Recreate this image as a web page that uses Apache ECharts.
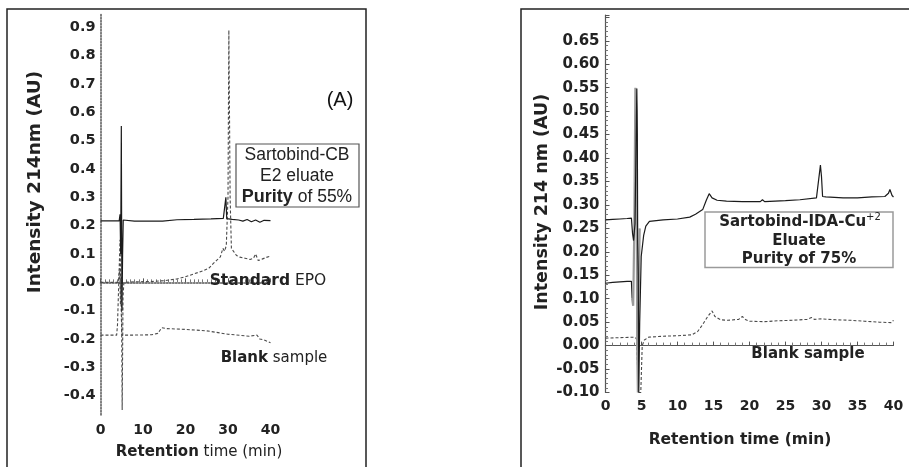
<!DOCTYPE html>
<html>
<head>
<meta charset="utf-8">
<script src="https://cdn.jsdelivr.net/npm/echarts@6/dist/echarts.min.js"></script>
<style>
  html, body { margin: 0; padding: 0; background: #ffffff; }
  #chart { width: 909px; height: 467px; }
</style>
</head>
<body>
<div id="chart"></div>
<script>
// ---------- Panel A: Sartobind-CB (retention time in min, absorbance in AU) ----------
const cbEluate = [
  [0, 0.217], [2, 0.217], [4.4, 0.217], [4.6, 0.24], [4.75, 0.10], [4.9, 0.552],
  [4.97, 0.20], [5.05, -0.10], [5.2, 0.10], [5.35, 0.22], [5.6, 0.217], [8, 0.216],
  [12, 0.216], [14.6, 0.216], [14.8, 0.221], [18, 0.221], [22, 0.222], [26, 0.224],
  [28.9, 0.226], [29.3, 0.23], [29.5, 0.30], [29.7, 0.225], [31, 0.222], [32.5, 0.22],
  [33.5, 0.216], [34.5, 0.222], [35.5, 0.214], [36.5, 0.22], [37.5, 0.212],
  [38.5, 0.219], [40, 0.218]
];
const standardEpo = [
  [0, 0.0], [2, 0.0], [4.2, 0.0], [4.5, 0.05], [4.7, -0.08], [4.9, 0.02],
  [5.1, -0.45], [5.3, -0.05], [5.5, 0.0], [8, 0.002], [12, 0.003], [15, 0.006],
  [18, 0.012], [20, 0.02], [22, 0.03], [24, 0.04], [25.5, 0.05], [26.5, 0.066],
  [27.5, 0.08], [28.2, 0.09], [28.8, 0.12], [29.2, 0.11], [29.6, 0.13],
  [30.0, 0.30], [30.2, 0.89], [30.5, 0.30], [30.8, 0.12], [31.2, 0.114],
  [32, 0.095], [32.8, 0.089], [34, 0.085], [35.2, 0.081], [36, 0.085],
  [36.5, 0.10], [37.1, 0.077], [38, 0.082], [39, 0.088], [40, 0.093]
];
const cbBlank = [
  [0, -0.186], [2, -0.186], [3.8, -0.186], [4.0, -0.15], [4.3, 0.0], [4.6, 0.15],
  [4.8, -0.05], [5.0, -0.186], [8, -0.186], [12, -0.185], [13.5, -0.18],
  [14.4, -0.16], [15.5, -0.163], [20, -0.166], [25, -0.171], [30, -0.183],
  [33, -0.187], [35, -0.19], [36.8, -0.186], [37.5, -0.20], [38.5, -0.203],
  [40, -0.213]
];

// ---------- Panel B: Sartobind-IDA-Cu+2 ----------
const idaEluate = [
  [0, 0.268], [1, 0.269], [2, 0.270], [3, 0.271], [3.6, 0.272], [3.75, 0.24],
  [3.9, 0.224], [4.1, 0.26], [4.35, 0.548], [4.42, 0.45], [4.47, 0.22],
  [4.55, 0.15], [4.62, -0.10], [4.75, 0.05], [4.96, 0.19], [5.3, 0.235],
  [5.6, 0.255], [6.1, 0.265], [8, 0.268], [10, 0.27], [11.7, 0.274],
  [12.5, 0.28], [13.5, 0.29], [14.0, 0.31], [14.4, 0.324], [14.8, 0.315],
  [15.5, 0.31], [16.8, 0.308], [19, 0.307], [21.5, 0.307], [21.8, 0.311],
  [22.1, 0.307], [25, 0.309], [27, 0.311], [29.3, 0.315], [29.85, 0.385],
  [30.0, 0.36], [30.15, 0.318], [30.6, 0.317], [33, 0.315], [35, 0.315],
  [37, 0.317], [38.8, 0.318], [39.3, 0.325], [39.5, 0.333], [39.8, 0.32],
  [40, 0.317]
];
const idaMiddle = [
  [0, 0.133], [1, 0.135], [2, 0.136], [3, 0.137], [3.6, 0.137], [3.7, 0.10],
  [3.85, 0.085], [4.0, 0.25], [4.15, 0.55], [4.3, 0.50], [4.4, 0.0],
  [4.5, -0.10], [4.6, 0.10], [4.75, 0.25]
];
const idaBlank = [
  [0, 0.016], [2, 0.017], [4, 0.018], [4.3, 0.015], [4.6, -0.10], [4.9, -0.10],
  [5.1, 0.0], [5.4, 0.012], [6, 0.018], [8, 0.020], [10, 0.021], [12, 0.023],
  [12.8, 0.03], [13.5, 0.045], [14.2, 0.062], [14.8, 0.074], [15.2, 0.062],
  [16, 0.055], [17, 0.054], [18.5, 0.056], [19, 0.062], [19.5, 0.055],
  [20, 0.052], [22, 0.051], [24, 0.053], [26, 0.054], [28, 0.056],
  [28.6, 0.06], [29, 0.056], [30, 0.057], [32, 0.055], [34, 0.054],
  [36, 0.052], [38, 0.050], [39.7, 0.049], [40, 0.054]
];

// Tick labels on the left-hand intensity axis
const leftYLabels = [-0.4, -0.3, -0.2, -0.1, 0.0, 0.1, 0.2, 0.3, 0.4, 0.5, 0.6, 0.7, 0.8, 0.9];

const FONT = 'DejaVu Sans';
const INK = '#222';

function fmt(v, d) {
  if (Math.abs(v) < 1e-9) v = 0;
  return v.toFixed(d);
}

const solid = { color: '#1b1b1b', width: 1.2, type: 'solid' };
const dashed = { color: '#4a4a4a', width: 1.1, type: [3, 2] };

function line(data, style, gi) {
  return {
    type: 'line', data: data, xAxisIndex: gi, yAxisIndex: gi,
    showSymbol: false, symbol: 'none', lineStyle: style, silent: true,
    animation: false
  };
}

const chart = echarts.init(document.getElementById('chart'), null, { renderer: 'canvas' });

const option = {
  backgroundColor: '#ffffff',
  animation: false,
  grid: [
    { left: 100.5, top: 14, width: 170, height: 401 },
    { left: 605.5, top: 15, width: 288, height: 377.5 }
  ],
  xAxis: [
    {
      gridIndex: 0, type: 'value', min: 0, max: 40, interval: 10,
      axisLine: { show: true, lineStyle: { color: '#555', type: 'dotted', width: 1.5 } },
      axisTick: { show: true, inside: true, length: 4, lineStyle: { color: '#555' } },
      minorTick: { show: true, splitNumber: 10, length: 3, lineStyle: { color: '#777' } },
      splitLine: { show: false },
      axisLabel: { fontFamily: FONT, fontWeight: 'bold', fontSize: 14, color: INK, margin: 8 }
    },
    {
      gridIndex: 1, type: 'value', min: 0, max: 40, interval: 5,
      axisLine: { show: true, lineStyle: { color: '#555', width: 1.2 } },
      axisTick: { show: true, inside: true, length: 4, lineStyle: { color: '#555' } },
      minorTick: { show: true, splitNumber: 5, length: 3, lineStyle: { color: '#777' } },
      splitLine: { show: false },
      axisLabel: { fontFamily: FONT, fontWeight: 'bold', fontSize: 14, color: INK, margin: 7 }
    }
  ],
  yAxis: [
    {
      gridIndex: 0, type: 'value', min: -0.468, max: 0.947,
      axisLine: { show: true, lineStyle: { color: '#555', type: 'dotted', width: 1.5 } },
      axisTick: { show: false },
      splitLine: { show: false },
      axisLabel: {
        customValues: leftYLabels,
        formatter: v => fmt(v, 1),
        fontFamily: FONT, fontWeight: 'bold', fontSize: 14.5, color: INK, margin: 5
      }
    },
    {
      gridIndex: 1, type: 'value', min: -0.1, max: 0.705, interval: 0.05,
      axisLine: { show: true, lineStyle: { color: '#555', width: 1.2 } },
      axisTick: { show: true, inside: true, length: 4, lineStyle: { color: '#555' } },
      minorTick: { show: true, splitNumber: 5, length: 2.5, lineStyle: { color: '#777' } },
      splitLine: { show: false },
      axisLabel: {
        showMaxLabel: false,
        formatter: v => (v > 0.66 ? '' : fmt(v, 2)),
        fontFamily: FONT, fontWeight: 'bold', fontSize: 15, color: INK, margin: 6
      }
    }
  ],
  series: [
    line(cbBlank, dashed, 0),
    line(standardEpo, dashed, 0),
    line(cbEluate, solid, 0),
    line(idaBlank, dashed, 1),
    line(idaMiddle.filter(p => p[0] <= 3.7), solid, 1),
    line(idaMiddle.filter(p => p[0] >= 3.7), { color: '#9a9a9a', width: 2.2, type: 'solid' }, 1),
    line(idaEluate, solid, 1)
  ],
  graphic: [
    // panel frames
    { type: 'rect', z: 0, shape: { x: 7, y: 9, width: 359, height: 480 },
      style: { fill: 'none', stroke: '#222', lineWidth: 1.5 } },
    { type: 'rect', z: 0, shape: { x: 521, y: 9, width: 420, height: 480 },
      style: { fill: 'none', stroke: '#222', lineWidth: 1.5 } },

    // panel A titles
    { type: 'text', x: 35, y: 182, rotation: Math.PI / 2, z: 10,
      style: { text: 'Intensity 214nm (AU)', font: 'bold 18.5px "DejaVu Sans"', fill: INK,
               align: 'center', verticalAlign: 'middle' } },
    { type: 'text', x: 199, y: 452, z: 10,
      style: { text: '{b|Retention}{n| time (min)}', align: 'center', verticalAlign: 'middle', fill: INK,
               rich: { b: { fontFamily: FONT, fontWeight: 'bold', fontSize: 15, fill: INK },
                       n: { fontFamily: FONT, fontWeight: 'normal', fontSize: 15, fill: INK } } } },
    { type: 'text', x: 340, y: 100, z: 10,
      style: { text: '(A)', font: '20px "Liberation Sans"', fill: '#111', align: 'center', verticalAlign: 'middle' } },
    { type: 'rect', z: 5, shape: { x: 236, y: 144, width: 123, height: 63 },
      style: { fill: '#ffffff', stroke: '#555', lineWidth: 1.2 } },
    { type: 'text', x: 297, y: 155, z: 10,
      style: { text: 'Sartobind-CB', font: '17.5px "Liberation Sans"', fill: INK, align: 'center', verticalAlign: 'middle' } },
    { type: 'text', x: 297, y: 176.5, z: 10,
      style: { text: 'E2 eluate', font: '17.5px "Liberation Sans"', fill: INK, align: 'center', verticalAlign: 'middle' } },
    { type: 'text', x: 297, y: 197, z: 10,
      style: { text: '{b|Purity}{n| of 55%}', align: 'center', verticalAlign: 'middle', fill: INK,
               rich: { b: { fontFamily: 'Liberation Sans', fontWeight: 'bold', fontSize: 18, fill: INK },
                       n: { fontFamily: 'Liberation Sans', fontWeight: 'normal', fontSize: 17.5, fill: INK } } } },
    { type: 'text', x: 268, y: 281, z: 10,
      style: { text: '{b|Standard}{n| EPO}', align: 'center', verticalAlign: 'middle', fill: INK,
               rich: { b: { fontFamily: FONT, fontWeight: 'bold', fontSize: 15.5, fill: INK },
                       n: { fontFamily: FONT, fontWeight: 'normal', fontSize: 15.5, fill: INK } } } },
    { type: 'text', x: 274, y: 358, z: 10,
      style: { text: '{b|Blank}{n| sample}', align: 'center', verticalAlign: 'middle', fill: INK,
               rich: { b: { fontFamily: FONT, fontWeight: 'bold', fontSize: 15, fill: INK },
                       n: { fontFamily: FONT, fontWeight: 'normal', fontSize: 15, fill: INK } } } },

    // panel B titles
    { type: 'text', x: 542, y: 202, rotation: Math.PI / 2, z: 10,
      style: { text: 'Intensity 214 nm (AU)', font: 'bold 17.5px "DejaVu Sans"', fill: INK,
               align: 'center', verticalAlign: 'middle' } },
    { type: 'text', x: 740, y: 440, z: 10,
      style: { text: 'Retention time (min)', font: 'bold 15.5px "DejaVu Sans"', fill: INK,
               align: 'center', verticalAlign: 'middle' } },
    { type: 'rect', z: 5, shape: { x: 705, y: 212, width: 188, height: 55.5 },
      style: { fill: '#ffffff', stroke: '#9a9a9a', lineWidth: 1.5 } },
    { type: 'text', x: 800, y: 222, z: 10,
      style: { text: '{b|Sartobind-IDA-Cu}{s|+2}', align: 'center', verticalAlign: 'middle', fill: INK,
               rich: { b: { fontFamily: FONT, fontWeight: 'bold', fontSize: 15, fill: INK, lineHeight: 19 },
                       s: { fontFamily: FONT, fontWeight: 'normal', fontSize: 10, fill: INK, verticalAlign: 'top', lineHeight: 19 } } } },
    { type: 'text', x: 799, y: 241, z: 10,
      style: { text: 'Eluate', font: 'bold 15px "DejaVu Sans"', fill: INK, align: 'center', verticalAlign: 'middle' } },
    { type: 'text', x: 799, y: 259.5, z: 10,
      style: { text: 'Purity of 75%', font: 'bold 15px "DejaVu Sans"', fill: INK, align: 'center', verticalAlign: 'middle' } },
    { type: 'text', x: 808, y: 354, z: 10,
      style: { text: 'Blank sample', font: 'bold 15px "DejaVu Sans"', fill: INK, align: 'center', verticalAlign: 'middle' } }
  ]
};

chart.setOption(option);
</script>
</body>
</html>
